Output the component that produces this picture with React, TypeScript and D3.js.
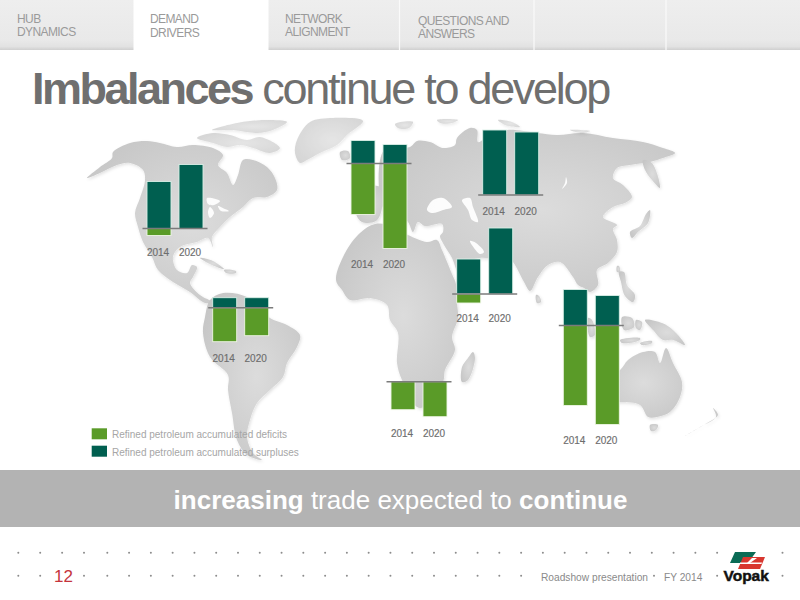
import React from "react";
import * as d3 from "d3";

// ---- chart data (in arbitrary volume units) ----
const regions = ["North America", "South America", "Europe", "Russia", "Middle East", "Africa", "Asia"];
const years = ["2014", "2020"];
const surplus2014 = [47, 10, 23, 65, 35, 0, 36];
const surplus2020 = [64, 10, 19, 63, 66, 0, 30];
const deficit2014 = [7, 34, 51, 0, 9, 28, 80];
const deficit2020 = [0, 28, 85, 0, 0, 35, 99];

// where each small chart sits on the map
const panelLeft = [147, 212.7, 351, 482.7, 456.7, 391, 563.3];
const panelBase = [228.5, 307.7, 163.5, 195, 294, 381.7, 325.5];
const panelLabelY = [256, 362, 268, 215, 322, 437, 444];

const legendLabels = ["Refined petroleum accumulated deficits", "Refined petroleum accumulated surpluses"];

const tabRows = [
  { x: 17, y: [22.5, 35.5], t: ["HUB", "DYNAMICS"] },
  { x: 150, y: [22.5, 36.5], t: ["DEMAND", "DRIVERS"] },
  { x: 285, y: [22.5, 35.5], t: ["NETWORK", "ALIGNMENT"] },
  { x: 418, y: [24.5, 37.5], t: ["QUESTIONS AND", "ANSWERS"] },
];
const tabSeparators = [399.5, 534, 666];

const DARK = "#005f50";
const GREEN = "#5a9b28";

type P = [number, number];
const northAmerica: P[] = [[87,178],[100,167],[112,158],[113,152],[130,143],[147,141],[160,143],[177,147],[193,145],[213,148],[223,155],[218,165],[227,173],[233,185],[238,175],[243,160],[253,160],[267,167],[275,178],[277,190],[267,197],[253,198],[243,207],[230,217],[220,227],[212,237],[213,247],[208,238],[197,242],[180,247],[173,257],[177,270],[187,273],[192,265],[197,267],[193,277],[190,283],[200,295],[212,302],[205,303],[190,292],[173,282],[158,270],[152,257],[143,242],[138,227],[135,213],[140,198],[145,180],[143,170],[130,163],[117,165],[100,173]];
const arctic1: P[] = [[197,138],[213,133],[230,135],[247,140],[260,137],[280,148],[270,153],[253,148],[240,145],[227,147],[213,143]];
const arctic2: P[] = [[212,130],[237,123],[267,120],[287,122],[273,130],[257,133],[233,130]];
const greenland: P[] = [[295,153],[300,163],[307,160],[320,153],[337,145],[347,135],[363,121],[333,118],[310,122],[297,140]];
const cuba: P[] = [[200,258],[213,261],[224,269],[212,265]];
const hispaniola: P[] = [[224,270],[236,271],[236,273],[226,273]];
const southAmerica: P[] = [[210,300],[223,293],[247,297],[270,318],[287,325],[300,335],[297,347],[287,363],[283,377],[270,390],[257,403],[250,420],[247,437],[253,453],[262,460],[247,455],[237,440],[232,413],[228,390],[228,375],[210,357],[203,333],[205,317]];
const eurasia: P[] = [[384,150],[410,147],[417,141],[430,142],[443,148],[455,145],[457,138],[470,128],[477,130],[478,142],[490,135],[507,130],[537,133],[557,135],[583,133],[613,138],[643,142],[663,148],[675,153],[663,158],[650,162],[630,165],[617,168],[613,178],[623,185],[632,197],[625,203],[613,207],[603,217],[617,225],[613,229],[617,240],[617,252],[608,263],[597,270],[598,285],[590,292],[584,288],[578,285],[573,277],[560,262],[548,265],[538,277],[530,291],[524,282],[513,262],[505,255],[490,258],[480,258],[462,264],[459,275],[452,258],[444,245],[440,236],[443,232],[442,224],[425,226],[418,222],[413,232],[408,222],[400,216],[384,210]];
const iberia: P[] = [[358,190],[380,187],[382,208],[376,221],[362,222],[356,214]];
const britain: P[] = [[340,152],[348,151],[350,158],[342,160]];
const africa: P[] = [[360,233],[375,224],[392,226],[408,235],[427,242],[437,240],[442,250],[452,274],[456,284],[457,303],[458,318],[452,337],[455,350],[445,370],[443,382],[424,407],[417,407],[402,380],[397,363],[398,333],[390,320],[387,305],[370,298],[350,300],[342,290],[336,280],[345,253]];
const madagascar: P[] = [[473,352],[475,358],[468,380],[462,382],[462,367],[468,358]];
const australia: P[] = [[600,380],[620,370],[628,360],[643,352],[655,352],[660,363],[666,348],[673,363],[682,382],[680,397],[670,412],[657,417],[648,417],[640,405],[620,402],[600,405]];
const tasmania: P[] = [[650,425],[658,425],[656,430],[651,431]];
const newZealand: P[] = [[683,437],[707,423],[718,415],[713,408],[716,417],[700,427]];
const guinea: P[] = [[645,320],[662,323],[673,330],[685,345],[673,340],[663,340],[653,330]];
const borneo: P[] = [[622,317],[632,318],[634,327],[624,330]];
const celebes: P[] = [[636,320],[642,322],[640,330],[636,328]];
const java: P[] = [[620,340],[640,338],[640,340],[622,343]];
const timor: P[] = [[640,343],[652,341],[652,343],[642,345]];
const sumatra: P[] = [[588,318],[592,320],[595,335],[590,337]];
const philippines: P[] = [[619,272],[624,272],[627,285],[635,295],[633,302],[625,296],[621,282]];
const taiwan: P[] = [[617,266],[619,266],[620,272],[617,272]];
const sriLanka: P[] = [[536,295],[539,296],[541,302],[537,303]];
const japan: P[] = [[650,210],[648,223],[638,232],[632,238],[630,232],[640,226],[646,214]];
const kamchatka: P[] = [[643,160],[652,163],[660,188],[652,180],[645,170]];
const novaA: P[] = [[395,124],[413,122],[409,128],[398,128]];
const novaB: P[] = [[437,120],[458,120],[452,123],[440,123]];
const novaC: P[] = [[498,120],[512,122],[520,127],[505,125]];
const novaD: P[] = [[570,130],[590,131],[582,133]];
const landmasses = [northAmerica, cuba, hispaniola, southAmerica, eurasia, iberia, britain, africa, madagascar, australia, tasmania, newZealand, guinea, borneo, celebes, java, timor, sumatra, philippines, taiwan, sriLanka, japan, kamchatka];
const paleLandmasses = [arctic1, arctic2, greenland, novaA, novaB, novaC, novaD];

const blackSea: P[] = [[427,210],[433,200],[443,198],[452,207],[443,210],[432,213]];
const caspian: P[] = [[462,200],[470,198],[473,207],[478,222],[472,220],[468,210]];
const gulf: P[] = [[470,241],[476,243],[484,252],[480,254],[474,248]];
const baikal: P[] = [[566,177],[567,183],[562,189],[565,183]];
const lakeA: P[] = [[207,198],[220,201],[214,205],[208,204]];
const lakeB: P[] = [[210,207],[214,213],[210,218],[208,212]];
const lakeC: P[] = [[218,206],[225,209],[229,211],[221,211]];
const waters = [blackSea, caspian, gulf, baikal, lakeA, lakeB, lakeC];

const rowOneDots = d3.range(18.3, 90, 21.9).concat(d3.range(0, 32).map((k) => 107.3 + k * 21.78)).filter((x) => x < 730 || x > 775);
const rowTwoDots = rowOneDots.filter((x) => (x < 50 || x > 80) && (x < 530 || x > 700)).concat([654]);

const heightScale = d3.scaleLinear().domain([0, 100]).range([0, 100]);
const land = d3.line<P>().curve(d3.curveCatmullRomClosed.alpha(0.5));
const FONT = "'Liberation Sans', Arial, sans-serif";

export default function App() {
  return (
    <svg width={800} height={600} viewBox="0 0 800 600" style={{ position: "absolute", left: 0, top: 0, display: "block", background: "#fff" }} fontFamily={FONT}>
      <defs>
        <linearGradient id="tabbar" x1="0" y1="0" x2="0" y2="1">
          <stop offset="0" stopColor="#eeeeee" />
          <stop offset="0.8" stopColor="#e9e9e9" />
          <stop offset="0.93" stopColor="#e2e2e2" />
          <stop offset="1" stopColor="#cfcfcf" />
        </linearGradient>
        <radialGradient id="landfill" cx="0.55" cy="0.5" r="0.65">
          <stop offset="0" stopColor="#dcdcdc" />
          <stop offset="1" stopColor="#c6c6c6" />
        </radialGradient>
        <filter id="soft" x="-10%" y="-10%" width="120%" height="120%">
          <feGaussianBlur in="SourceGraphic" stdDeviation="0.45" result="b" />
          <feDropShadow in="b" dx="1" dy="1.5" stdDeviation="1.6" floodColor="#000" floodOpacity="0.12" />
        </filter>
      </defs>

      {/* navigation tabs */}
      <rect x={0} y={0} width={800} height={50} fill="url(#tabbar)" />
      <rect x={133.5} y={0} width={135} height={51} fill="#fff" />
      {tabSeparators.map((x) => <line key={x} x1={x} x2={x} y1={0} y2={50} stroke="#fafafa" strokeWidth={1.2} />)}
      {tabRows.map((tab) => tab.t.map((t, i) => (
        <text key={t} x={tab.x} y={tab.y[i]} fontSize={12} fill="#9a9a9a" letterSpacing={-0.6}>{t}</text>
      )))}

      {/* title */}
      <text x={32} y={103.5} fontSize={45} fill="#6f6f6f" letterSpacing={-2.3}>
        <tspan fontWeight="bold" letterSpacing={-2.5}>Imbalances</tspan>
        <tspan> continue to develop</tspan>
      </text>

      {/* map */}
      <g filter="url(#soft)">
        {landmasses.map((p, i) => <path key={i} d={land(p) as string} fill="url(#landfill)" />)}
      </g>
      <g filter="url(#soft)" opacity={0.72}>
        {paleLandmasses.map((p, i) => <path key={i} d={land(p) as string} fill="url(#landfill)" />)}
      </g>
      {waters.map((p, i) => <path key={i} d={land(p) as string} fill="#fff" opacity={0.92} />)}

      {/* bar panels */}
      {regions.map((region, r) => {
        const x = d3.scaleBand<string>().domain(years).range([panelLeft[r], panelLeft[r] + 56]).paddingInner(0.25);
        const up = [surplus2014[r], surplus2020[r]];
        const down = [deficit2014[r], deficit2020[r]];
        const base = panelBase[r];
        return (
          <g key={region}>
            {years.map((year, i) => {
              const bx = x(year) as number;
              const w = x.bandwidth();
              const hUp = heightScale(up[i]);
              const hDown = heightScale(down[i]);
              return (
                <g key={year}>
                  {hUp > 0 && <rect x={bx} y={base - hUp} width={w} height={hUp} fill={DARK} stroke="#d9efe6" strokeWidth={0.9} />}
                  {hDown > 0 && <rect x={bx} y={base} width={w} height={hDown} fill={GREEN} stroke="#eef6e4" strokeWidth={0.9} />}
                  <text x={bx + w / 2 - 1} y={panelLabelY[r]} textAnchor="middle" fontSize={10} fill="#6d6d6d" stroke="#6d6d6d" strokeWidth={0.15}>{year}</text>
                </g>
              );
            })}
            <line x1={panelLeft[r] - 4.5} x2={panelLeft[r] + 60.5} y1={base} y2={base} stroke="#7b7b7b" strokeWidth={1.4} />
          </g>
        );
      })}

      {/* legend */}
      {legendLabels.map((label, i) => (
        <g key={label}>
          <rect x={91.7} y={428.3 + i * 17.4} width={15.3} height={11} fill={i === 0 ? GREEN : DARK} />
          <text x={112} y={437.5 + i * 18.3} fontSize={10} fill="#a6a6a6">{label}</text>
        </g>
      ))}

      {/* message band */}
      <rect x={0} y={470} width={800} height={57} fill="#b3b3b3" />
      <text x={400.5} y={508.5} textAnchor="middle" fontSize={26} fill="#fff">
        <tspan fontWeight="bold">increasing</tspan>
        <tspan> trade expected to </tspan>
        <tspan fontWeight="bold">continue</tspan>
      </text>

      {/* footer */}
      {rowOneDots.map((x) => <circle key={x} cx={x} cy={552.7} r={1} fill="#8c8c8c" />)}
      {rowTwoDots.map((x) => <circle key={x} cx={x} cy={575.7} r={1} fill="#8c8c8c" />)}
      <text x={54} y={582} fontSize={17} fill="#c5343c">12</text>
      <text x={541} y={580.5} fontSize={10.2} fill="#8a8a8a">Roadshow presentation</text>
      <text x={664} y={580.5} fontSize={10.2} fill="#8a8a8a">FY 2014</text>

      {/* logo */}
      <polygon points="735,552 756,552 748,563 730,563" fill="#0a6b55" />
      <polygon points="743,557 765,557 760,569 738,569" fill="#d8372f" />
      <polygon points="740,562.5 762,562.5 761.5,564 740,564" fill="#fff" />
      <polygon points="752,558 757,558 750,563 747,563" fill="#fff" />
      <text x={723.5} y={580.5} fontSize={15.5} fontWeight="bold" fill="#111" stroke="#111" strokeWidth={0.5}>Vopak</text>
    </svg>
  );
}
